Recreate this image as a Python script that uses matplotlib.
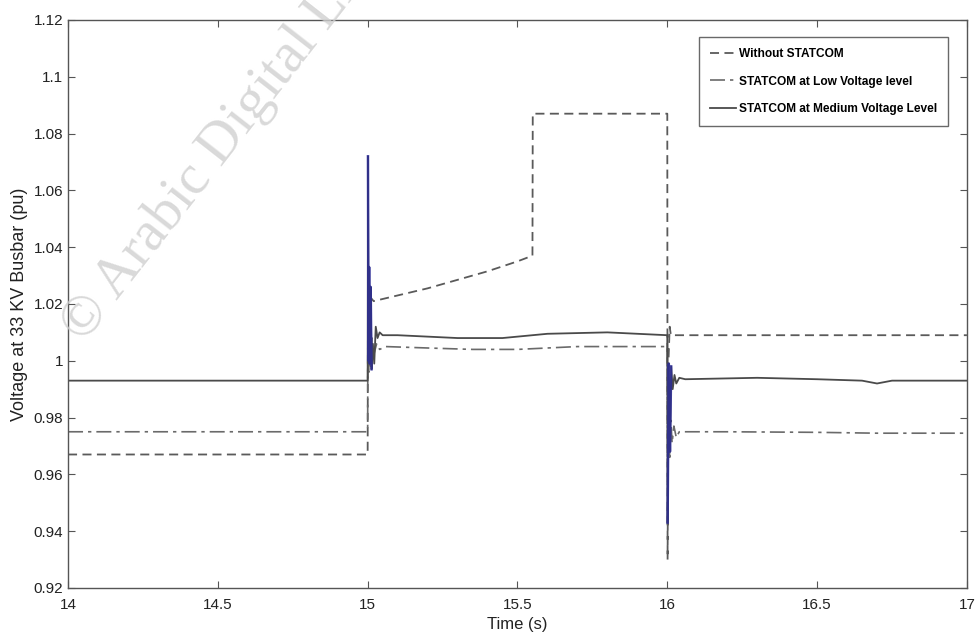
import numpy as np
import matplotlib
matplotlib.use('Agg')
from matplotlib import pyplot as plt

plt.rcParams['font.family'] = ['Liberation Sans', 'DejaVu Sans']

# bus voltage without compensation
t_no = [14.0, 15.0, 15.001, 15.004, 15.008, 15.012, 15.02, 15.1, 15.2, 15.3, 15.4, 15.5,
        15.55, 15.551, 16.0, 16.001, 16.004, 16.008, 16.012, 17.0]
v_no = [0.967, 0.967, 1.020, 1.028, 1.016, 1.022, 1.021, 1.023, 1.0255, 1.0285, 1.0315, 1.035,
        1.037, 1.087, 1.087, 0.930, 1.000, 1.012, 1.009, 1.009]

# STATCOM on the low voltage side
t_lv = [14.0, 15.0, 15.001, 15.004, 15.007, 15.011, 15.015, 15.02, 15.03, 15.04, 15.06, 15.2,
        15.35, 15.5, 15.7, 16.0, 16.001, 16.004, 16.008, 16.012, 16.016, 16.022, 16.03, 16.04,
        16.2, 16.5, 16.7, 17.0]
v_lv = [0.975, 0.975, 1.030, 0.996, 1.012, 0.998, 1.008, 1.002, 1.006, 1.004, 1.005, 1.0045,
        1.004, 1.004, 1.005, 1.005, 0.955, 0.983, 0.966, 0.979, 0.971, 0.977, 0.973, 0.975,
        0.975, 0.9748, 0.9745, 0.9745]

# STATCOM on the medium voltage side
t_mv = [14.0, 15.0, 15.001, 15.003, 15.005, 15.007, 15.01, 15.013, 15.017, 15.022, 15.027,
        15.033, 15.04, 15.05, 15.1, 15.2, 15.3, 15.45, 15.6, 15.8, 15.9, 16.0, 16.001, 16.005,
        16.009, 16.013, 16.018, 16.024, 16.03, 16.04, 16.06, 16.3, 16.5, 16.65, 16.7, 16.75,
        17.0]
v_mv = [0.993, 0.993, 1.072, 1.000, 1.033, 0.999, 1.026, 0.997, 1.006, 0.999, 1.012, 1.008,
        1.010, 1.009, 1.009, 1.0085, 1.008, 1.008, 1.0095, 1.010, 1.0095, 1.009, 0.943, 0.999,
        0.968, 0.998, 0.990, 0.995, 0.992, 0.994, 0.9935, 0.994, 0.9935, 0.993, 0.992, 0.993,
        0.993]

fig = plt.figure(figsize=(9.76, 6.44), dpi=100)
ax = fig.add_axes([0.0697, 0.087, 0.921, 0.882])

ax.plot(t_no, v_no, color='#5a5a5a', lw=1.3, dashes=(5, 3), label='Without STATCOM')
ax.plot(t_lv, v_lv, color='#6a6a6a', lw=1.2, dashes=(9, 3, 2, 3), label='STATCOM at Low Voltage level')
ax.plot(t_mv, v_mv, color='#4a4a4a', lw=1.3, label='STATCOM at Medium Voltage Level')

# switching transients of the MV-side STATCOM show up blue
tm = np.array(t_mv)
vm = np.array(v_mv)
for t0 in (15.0, 16.0):
    m = (tm > t0) & (tm <= t0 + 0.014)
    ax.plot(tm[m], vm[m], color='#2a2a9a', lw=1.8, alpha=0.8)

ax.set_xlim(14, 17)
ax.set_ylim(0.92, 1.12)
ax.set_xticks([14, 14.5, 15, 15.5, 16, 16.5, 17])
ax.set_xticklabels(['14', '14.5', '15', '15.5', '16', '16.5', '17'])
ax.set_yticks(np.arange(0.92, 1.121, 0.02))
ax.set_yticklabels(['0.92', '0.94', '0.96', '0.98', '1', '1.02', '1.04', '1.06', '1.08', '1.1', '1.12'])
ax.tick_params(direction='in', top=True, right=True, length=5, width=0.8, colors='#555555',
               labelcolor='#222222', labelsize=11)
ax.tick_params(axis='x', pad=7)
for s in ax.spines.values():
    s.set_color('#555555')
    s.set_linewidth(1.0)

ax.set_xlabel('Time (s)', fontsize=12, color='#222222', labelpad=4)
ax.set_ylabel('Voltage at 33 KV Busbar (pu)', fontsize=13, color='#222222', labelpad=4)

leg = ax.legend(loc='upper right', bbox_to_anchor=(0.986, 0.98),
                frameon=True, fancybox=False, handlelength=2.2, handletextpad=0.3,
                borderpad=0.9, labelspacing=1.3,
                prop={'weight': 'bold', 'size': 8.6})
leg.get_frame().set_edgecolor('#444444')
leg.get_frame().set_linewidth(1.0)

# library watermark
fig.text(0.095, 0.455, '\u00a9 Arabic Digital Library', rotation=52, fontsize=41,
         family=['Liberation Serif', 'DejaVu Serif'], color='#d0d0d0', alpha=0.8,
         ha='left', va='bottom', rotation_mode='anchor', zorder=0)

plt.savefig('out.png', dpi=100)
